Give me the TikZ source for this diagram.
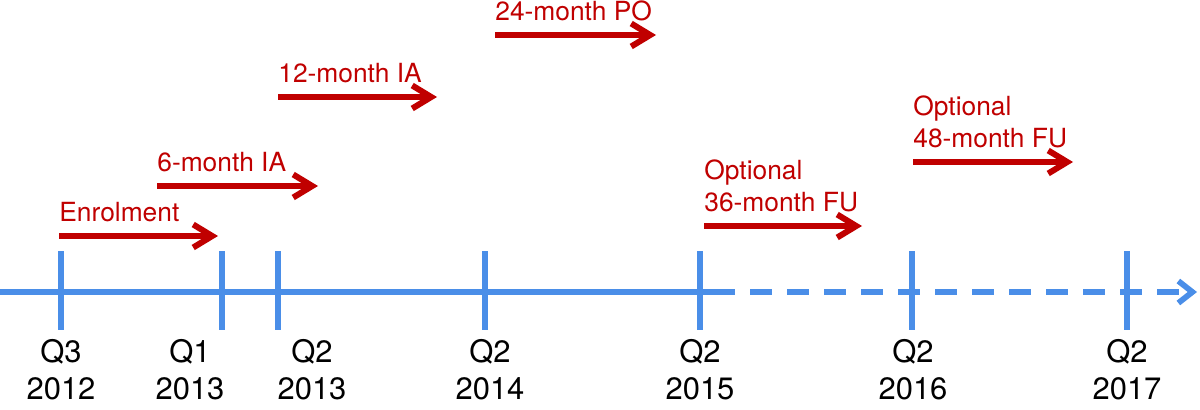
\documentclass[tikz,border=0pt]{standalone}
\usepackage{fontspec}
\setmainfont{TeX Gyre Heros}
\usetikzlibrary{arrows.meta, positioning}

\begin{document}
\begin{tikzpicture}[
    x=0.2mm, y=-0.2mm,
    every node/.style={font=\rmfamily},
]

% ---------------------------------------------------------------- colours
\definecolor{axisblue}{HTML}{4A8EE8}   % the time axis and its ticks
\definecolor{phasered}{HTML}{C00000}   % the study phases

% ---------------------------------------------------------------- styles
\tikzset{
    axisline/.style={axisblue, line width=1.15mm},
    tickline/.style={axisblue, line width=1.1mm},
    phasearrow/.style={
        phasered, line width=1.2mm,
        -{Straight Barb[length=3.8mm, width=4.6mm]},
    },
    phaselabel/.style={
        text=phasered, font=\fontsize{15}{18.2}\selectfont,
        inner sep=0pt, align=left,
    },
    datelabel/.style={
        font=\fontsize{17.6}{21.3}\selectfont,
        inner sep=0pt, align=center, anchor=north,
    },
}

% ================================================================
% GEOMETRY (pixel grid, y grows downward)
%   axis          y = 292, solid to x = 735, dashed to x = 1197
%   ticks         y = 251 .. 330
%   date labels   top at y = 339
% ================================================================
\useasboundingbox (0,0) rectangle (1200,409);

% ---------------------------------------------------------------- the axis
\coordinate (axstart) at (0,292);
\coordinate (axsolid) at (735,292);
\coordinate (axend)   at (1197,292);

\draw[axisline] (axstart) -- (axsolid);
\draw[axisline, dash pattern=on 4.4mm off 3mm, dash phase=4.4mm,
      -{Straight Barb[length=2.8mm, width=4.4mm]}]
    (axsolid) -- (axend);

% ---------------------------------------------------------------- ticks and dates
\foreach \i/\x/\lx/\q/\yr in {1/61/61/Q3/2012, 2/222/190/Q1/2013,
                              3/278/312/Q2/2013, 4/485/490/Q2/2014,
                              5/700/700/Q2/2015, 6/912/913/Q2/2016,
                              7/1127/1127/Q2/2017} {
    \coordinate (t\i top) at (\x,251);
    \coordinate (t\i bot) at (\x,330);
    \draw[tickline] (t\i top) -- (t\i bot);
    \node[datelabel] (d\i) at (\lx,339) {\q\\\yr};
}

% ---------------------------------------------------------------- the phases
% label sits 14px above its arrow, flush with the arrow's start
\foreach \n/\xa/\xb/\y/\txt in {enrol/59/218/236/Enrolment,
                                ia6/157/318/186/6-month IA,
                                ia12/278/437/97/12-month IA,
                                po24/495/656/35/24-month PO,
                                fu36/704/862/226/{Optional\\36-month FU},
                                fu48/913/1073/162/{Optional\\48-month FU}} {
    \coordinate (\n s) at (\xa,\y);
    \coordinate (\n e) at (\xb,\y);
    \draw[phasearrow] (\n s) -- (\n e);
    \node[phaselabel, above right=2.8mm and 0mm of \n s] (\n) {\txt};
}

\end{tikzpicture}
\end{document}
